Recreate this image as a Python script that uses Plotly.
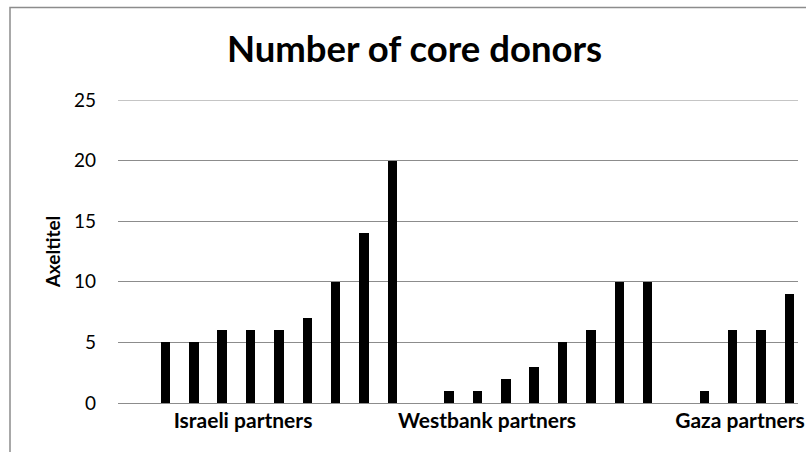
import plotly.graph_objects as go

# Number of core donors per partner organisation, grouped by region
israeli = [5, 5, 6, 6, 6, 7, 10, 14, 20]
westbank = [1, 1, 2, 3, 5, 6, 10, 10]
gaza = [1, 6, 6, 9]
group_names = ["Israeli partners", "Westbank partners", "Gaza partners"]
y_ticks = [0, 5, 10, 15, 20, 25]

groups = [israeli, westbank, gaza]

# Bars sit on consecutive slots, with one empty slot before each group
xs, ys = [], []
slot = 0
for g in groups:
    slot += 1
    for v in g:
        xs.append(slot)
        ys.append(v)
        slot += 1

FONT = "Lato"
W, H = 806, 452
L, R, T, B = 118, 8, 100, 49
plot_w = W - L - R
plot_h = H - T - B
slot_px = 28.36           # pixel width of one slot
first_bar_px = 165.5      # pixel centre of the first bar (slot 1)
bar_px = 9.5

x_lo = 1 - (first_bar_px - L) / slot_px
x_hi = x_lo + plot_w / slot_px


def px_to_x(p):
    return x_lo + (p - L) / slot_px


fig = go.Figure()
fig.add_trace(go.Bar(
    x=xs, y=ys,
    width=bar_px / slot_px,
    marker=dict(color="#000000", line=dict(width=0)),
    hoverinfo="y",
))

# group labels under each block of bars
label_vals = [px_to_x(p) for p in (243, 487, 740)]

grid_col = "#8c8c8c"

fig.update_layout(
    width=W, height=H,
    margin=dict(l=L, r=R, t=T, b=B),
    paper_bgcolor="white",
    plot_bgcolor="white",
    showlegend=False,
    bargap=0,
    title=dict(
        text="<b>Number of core donors</b>",
        font=dict(family=FONT, size=36.5, color="#000000"),
        x=(414.5 - L) / plot_w, xref="paper", xanchor="center",
        y=1 - 49.5 / H, yref="container", yanchor="middle",
        automargin=False,
    ),
    xaxis=dict(
        range=[x_lo, x_hi],
        automargin=False,
        tickmode="array",
        tickvals=label_vals,
        ticktext=[f"<b>{n}</b>" for n in group_names],
        tickfont=dict(family=FONT, size=21, color="#000000"),
        ticks="",
        showgrid=False,
        zeroline=False,
        showline=False,
        ticklabelstandoff=3,
    ),
    yaxis=dict(
        range=[0, 25],
        automargin=False,
        tickvals=y_ticks,
        tickfont=dict(family=FONT, size=19, color="#000000"),
        showgrid=True,
        gridcolor=grid_col,
        gridwidth=1,
        zeroline=True,
        zerolinecolor=grid_col,
        zerolinewidth=1,
        showline=False,
        ticks="",
        ticklabelstandoff=21,
        title=dict(
            text="<b>Axeltitel</b>",
            font=dict(family=FONT, size=19, color="#000000"),
            standoff=8,
        ),
    ),
    shapes=[
        # top gridline at the upper end of the axis
        dict(type="line", xref="paper", yref="y", x0=0, x1=1, y0=25, y1=25,
             line=dict(color=grid_col, width=1)),
        # chart area border
        dict(type="rect", xref="paper", yref="paper",
             x0=(10 - L) / plot_w, x1=(W + 20 - L) / plot_w,
             y0=(H - B - (H + 20)) / plot_h, y1=(H - B - 7.5) / plot_h,
             line=dict(color=grid_col, width=1.5),
             fillcolor="rgba(0,0,0,0)", layer="below"),
    ],
)

fig.write_html("out.html")
